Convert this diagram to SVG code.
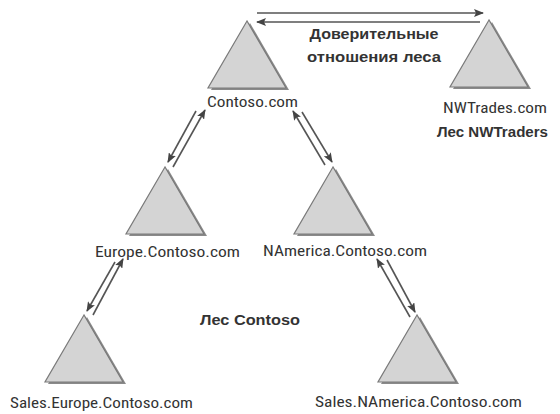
<svg xmlns="http://www.w3.org/2000/svg" width="560" height="414" viewBox="0 0 560 414">
<style>
.lbl{font-family:"Liberation Sans Narrow","Roboto Condensed","DejaVu Sans Condensed","Liberation Sans",sans-serif;font-size:15px;fill:#333}
.bold{font-family:"Liberation Sans",Arial,sans-serif;font-size:14px;font-weight:bold;fill:#333}
.con{stroke:#555;stroke-width:1.6;fill:none;marker-end:url(#ah)}
</style>
<defs>
<marker id="ah" markerUnits="userSpaceOnUse" markerWidth="10" markerHeight="8" refX="9" refY="4" orient="auto">
<path d="M0,0 L10,4 L0,8 L2,4 z" fill="#444"/>
</marker>
<g id="tri">
<polygon points="3,2 -36,69 42,69" fill="#8a8a8a"/>
<polygon points="0,0 -39,67 39,67" fill="#d4d4d4" stroke="#7a7a7a" stroke-width="1.2"/>
</g>
</defs>
<rect width="560" height="414" fill="#ffffff"/>
<g id="connectors">
<line class="con" x1="257" y1="13" x2="483" y2="13"/>
<line class="con" x1="480" y1="22" x2="257" y2="22"/>
<line class="con" x1="196" y1="111" x2="168" y2="162"/>
<line class="con" x1="173" y1="167" x2="205" y2="110"/>
<line class="con" x1="302" y1="112" x2="332" y2="162"/>
<line class="con" x1="325" y1="165" x2="293" y2="111"/>
<line class="con" x1="115" y1="262" x2="87" y2="311"/>
<line class="con" x1="93" y1="315" x2="123" y2="259"/>
<line class="con" x1="387" y1="260" x2="415" y2="312"/>
<line class="con" x1="410" y1="317" x2="377" y2="259"/>
</g>
<g id="trust-label">
<text class="bold" x="374" y="39" text-anchor="middle" textLength="129" lengthAdjust="spacingAndGlyphs">Доверительные</text>
<text class="bold" x="374" y="62" text-anchor="middle" textLength="134" lengthAdjust="spacingAndGlyphs">отношения леса</text>
</g>
<g id="contoso">
<use href="#tri" x="247" y="21"/>
<text class="lbl" x="207" y="107" textLength="91" lengthAdjust="spacingAndGlyphs">Contoso.com</text>
</g>
<g id="nwtrades">
<use href="#tri" x="489" y="20"/>
<text class="lbl" x="443" y="113" textLength="104" lengthAdjust="spacingAndGlyphs">NWTrades.com</text>
<text class="bold" x="437" y="137" textLength="111" lengthAdjust="spacingAndGlyphs">Лес NWTraders</text>
</g>
<g id="europe">
<use href="#tri" x="165" y="167"/>
<text class="lbl" x="95" y="257" textLength="145" lengthAdjust="spacingAndGlyphs">Europe.Contoso.com</text>
</g>
<g id="namerica">
<use href="#tri" x="333" y="167"/>
<text class="lbl" x="263" y="256" textLength="164" lengthAdjust="spacingAndGlyphs">NAmerica.Contoso.com</text>
</g>
<g id="sales-europe">
<use href="#tri" x="84" y="315"/>
<text class="lbl" x="10" y="408" textLength="183" lengthAdjust="spacingAndGlyphs">Sales.Europe.Contoso.com</text>
</g>
<g id="sales-namerica">
<use href="#tri" x="417" y="315"/>
<text class="lbl" x="315" y="407" textLength="207" lengthAdjust="spacingAndGlyphs">Sales.NAmerica.Contoso.com</text>
</g>
<g id="contoso-forest-label">
<text class="bold" x="200" y="325" textLength="100" lengthAdjust="spacingAndGlyphs">Лес Contoso</text>
</g>
</svg>
